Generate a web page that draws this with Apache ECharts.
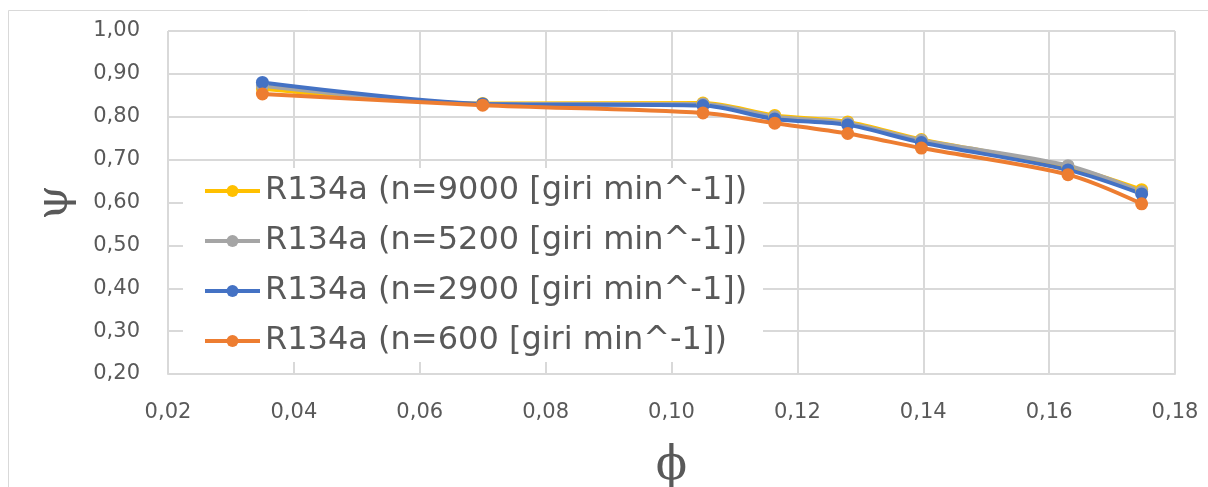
<!DOCTYPE html>
<html>
<head>
<meta charset="utf-8">
<script src="https://cdn.jsdelivr.net/npm/echarts@6/dist/echarts.min.js"></script>
<style>
  html, body { margin: 0; padding: 0; background: #ffffff; }
  #chart { width: 1208px; height: 487px; }
</style>
</head>
<body>
<div id="chart"></div>
<script>
// Flow coefficient (phi) at each operating point
const phi = [0.035, 0.070, 0.105, 0.1164, 0.128, 0.1397, 0.163, 0.1747];

// Head coefficient (psi) per rotational speed
const psiN9000 = [0.865, 0.831, 0.832, 0.803, 0.788, 0.747, 0.683, 0.630];
const psiN5200 = [0.872, 0.830, 0.830, 0.800, 0.785, 0.745, 0.686, 0.625];
const psiN2900 = [0.880, 0.830, 0.826, 0.795, 0.781, 0.740, 0.676, 0.620];
const psiN600  = [0.853, 0.827, 0.809, 0.785, 0.761, 0.727, 0.665, 0.597];

const seriesNames = [
  'R134a (n=9000 [giri min^-1])',
  'R134a (n=5200 [giri min^-1])',
  'R134a (n=2900 [giri min^-1])',
  'R134a (n=600 [giri min^-1])'
];
const seriesColors = ['#FFC000', '#A5A5A5', '#4472C4', '#ED7D31'];
const seriesValues = [psiN9000, psiN5200, psiN2900, psiN600];

const comma = v => v.toFixed(2).replace('.', ',');

const chart = echarts.init(document.getElementById('chart'), null, { renderer: 'canvas' });

chart.setOption({
  backgroundColor: '#ffffff',
  animation: false,
  textStyle: { fontFamily: 'DejaVu Sans' },
  graphic: [
    {
      // outer chart frame
      type: 'rect',
      shape: { x: 8.5, y: 10.5, width: 1400, height: 700 },
      style: { fill: 'none', stroke: '#d9d9d9', lineWidth: 1 },
      silent: true,
      z: -10
    },
    {
      // opaque backing behind the legend so gridlines stop at its edge
      type: 'rect',
      shape: { x: 183, y: 168, width: 580, height: 194 },
      style: { fill: '#ffffff' },
      silent: true,
      z: 5
    }
  ],
  grid: { left: 168, right: 33, top: 31, bottom: 113, containLabel: false, outerBoundsMode: 'none' },
  legend: {
    orient: 'vertical',
    left: 183,
    top: 169,
    padding: [2, 15, 5, 20],
    itemGap: 10,
    itemWidth: 55,
    itemHeight: 15,
    data: seriesNames,
    lineStyle: { width: 4 },
    textStyle: { fontSize: 32, color: '#595959', fontFamily: 'DejaVu Sans', lineHeight: 40 },
    z: 10
  },
  xAxis: {
    type: 'value',
    min: 0.02, max: 0.18, interval: 0.02,
    name: 'ϕ',
    nameLocation: 'middle',
    nameGap: 70,
    nameTextStyle: { fontSize: 46, color: '#595959', fontFamily: 'DejaVu Serif' },
    axisLine: { show: true, lineStyle: { color: '#d9d9d9', width: 2 } },
    axisTick: { show: false },
    axisLabel: { formatter: comma, fontSize: 21, color: '#595959', margin: 28 },
    splitLine: { show: true, lineStyle: { color: '#d9d9d9', width: 2 } }
  },
  yAxis: {
    type: 'value',
    min: 0.2, max: 1.0, interval: 0.1,
    name: 'ψ',
    nameLocation: 'middle',
    nameGap: 90,
    nameTextStyle: { fontSize: 44, color: '#595959', fontFamily: 'DejaVu Serif' },
    axisLine: { show: false },
    axisTick: { show: false },
    axisLabel: { formatter: comma, fontSize: 21, color: '#595959', margin: 28 },
    splitLine: { show: true, lineStyle: { color: '#d9d9d9', width: 2 } }
  },
  series: seriesNames.map((name, i) => ({
    name: name,
    type: 'line',
    smooth: 0.3,
    symbol: 'circle',
    symbolSize: 13,
    color: seriesColors[i],
    lineStyle: { width: 4, color: seriesColors[i] },
    itemStyle: { color: seriesColors[i] },
    data: phi.map((x, k) => [x, seriesValues[i][k]])
  }))
});
</script>
</body>
</html>
